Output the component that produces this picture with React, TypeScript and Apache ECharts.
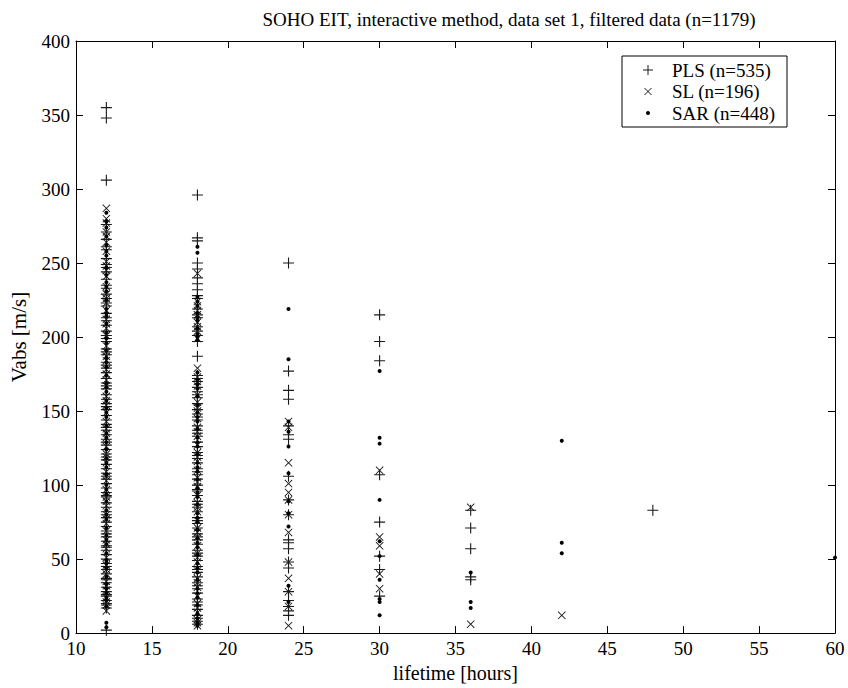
import React, { useEffect, useRef } from "react";
import * as echarts from "echarts";

const FONT = "'Liberation Serif', 'Times New Roman', serif";

const titleText = "SOHO EIT, interactive method, data set 1, filtered data (n=1179)";
const xName = "lifetime [hours]";
const yName = "Vabs [m/s]";
const legendLabels = ["PLS (n=535)", "SL (n=196)", "SAR (n=448)"];

// Vabs values per lifetime column, per method
const pls12 = [355, 348, 306, 276, 271, 266, 261, 259, 253, 249, 247, 244, 239, 235, 233, 229, 226, 223, 221, 216, 213, 211, 208, 204, 201, 199, 197, 192, 190, 188, 183, 181, 179, 176, 172, 169, 167, 165, 161, 158, 155, 153, 151, 147, 144, 141, 139, 137, 134, 131, 129, 127, 124, 121, 119, 117, 114, 111, 108, 106, 104, 101, 98, 95, 93, 92, 88, 85, 82, 80, 78, 75, 72, 69, 67, 65, 62, 59, 58, 56, 53, 50, 47, 45, 43, 40, 37, 36, 34, 31, 28, 26, 25, 22, 20, 19, 17, 2];
const pls18 = [296, 267, 265, 250, 246, 240, 236, 232, 228, 226, 219, 215, 213, 207, 204, 201, 197, 187, 174, 172, 170, 166, 163, 161, 159, 155, 151, 148, 146, 144, 140, 137, 135, 133, 129, 126, 122, 120, 118, 115, 111, 109, 107, 104, 100, 97, 96, 93, 89, 87, 85, 82, 78, 76, 74, 71, 67, 65, 63, 60, 56, 54, 52, 49, 45, 43, 41, 38, 34, 32, 30, 27, 23, 21, 19, 16, 12, 10, 8, 6];
const pls24 = [250, 177, 164, 158, 140, 134, 131, 106, 90, 80, 63, 61, 57, 48, 44, 28, 22, 18, 15, 12];
const pls30 = [215, 197, 184, 107, 75, 52, 43, 25];
const pls36 = [83, 71, 57, 38, 36];
const pls48 = [83];

const sl12 = [287, 280, 277, 271, 268, 264, 258, 251, 248, 245, 241, 234, 229, 226, 223, 218, 212, 209, 206, 201, 194, 190, 187, 184, 178, 175, 171, 167, 160, 157, 154, 149, 143, 138, 135, 132, 126, 121, 119, 115, 109, 106, 103, 97, 92, 89, 86, 80, 77, 74, 69, 63, 60, 57, 51, 46, 43, 40, 35, 32, 29, 24, 21, 19, 15];
const sl18 = [243, 224, 221, 218, 215, 210, 207, 204, 199, 179, 173, 170, 167, 161, 156, 152, 150, 145, 139, 136, 133, 127, 122, 119, 116, 110, 105, 102, 99, 93, 88, 85, 82, 76, 71, 68, 65, 59, 54, 51, 48, 42, 37, 34, 31, 25, 20, 17, 14, 9, 7, 5];
const sl24 = [143, 139, 115, 101, 95, 90, 80, 68, 48, 37, 28, 18, 5];
const sl30 = [110, 65, 59, 40, 30];
const sl36 = [85, 6];
const sl42 = [12];

const sar12 = [284, 278, 274, 268, 262, 258, 255, 247, 242, 237, 234, 231, 225, 219, 216, 214, 209, 203, 199, 196, 191, 186, 183, 180, 174, 169, 166, 163, 157, 152, 149, 146, 140, 135, 132, 129, 124, 118, 115, 112, 107, 100, 97, 94, 89, 83, 80, 77, 71, 66, 63, 60, 54, 49, 47, 44, 38, 33, 30, 27, 24, 22, 18, 7, 4];
const sar18 = [261, 257, 227, 224, 221, 216, 213, 211, 206, 202, 200, 198, 176, 171, 168, 165, 160, 154, 149, 146, 143, 138, 132, 129, 126, 121, 115, 112, 109, 104, 98, 95, 92, 87, 81, 78, 75, 70, 64, 61, 58, 53, 47, 44, 41, 36, 30, 27, 24, 19, 13, 10, 7, 5];
const sar24 = [219, 185, 143, 136, 126, 108, 89, 81, 72, 32, 21];
const sar30 = [177, 132, 128, 90, 62, 52, 36, 23, 21, 12];
const sar36 = [41, 21, 17];
const sar42 = [130, 61, 54];
const sar60 = [51];

const toPoints = (cols: [number, number[]][]) =>
  cols.flatMap(([x, ys]) => ys.map((y) => [x, y]));

const plsData = toPoints([[12, pls12], [18, pls18], [24, pls24], [30, pls30], [36, pls36], [48, pls48]]);
const slData = toPoints([[12, sl12], [18, sl18], [24, sl24], [30, sl30], [36, sl36], [42, sl42]]);
const sarData = toPoints([[12, sar12], [18, sar18], [24, sar24], [30, sar30], [36, sar36], [42, sar42], [60, sar60]]);

const PLUS = "path://M4.5,0H5.5V4.5H10V5.5H5.5V10H4.5V5.5H0V4.5H4.5Z";
const CROSS = "path://M0,0.8L0.8,0L5,4.2L9.2,0L10,0.8L5.8,5L10,9.2L9.2,10L5,5.8L0.8,10L0,9.2L4.2,5Z";

const GRID = { left: 76, right: 13, top: 41, bottom: 47 };

export default function App() {
  const ref = useRef<HTMLDivElement>(null);
  useEffect(() => {
    if (!ref.current) return;
    const chart = echarts.init(ref.current, undefined, { renderer: "svg" });
    const tickStyle = { show: true, inside: true, length: 7, lineStyle: { color: "#000", width: 1 } };
    const lineStyle = { show: true, onZero: false, lineStyle: { color: "#000", width: 1 } };
    const label = { color: "#000", fontFamily: FONT, fontSize: 19 };
    const nameStyle = { color: "#000", fontFamily: FONT, fontSize: 20 };
    const legX = 622, legY = 56, legW = 165, legH = 71;
    const rowY = [70, 91.5, 113];
    const mx = 648;
    chart.setOption({
      animation: false,
      backgroundColor: "#fff",
      title: {
        text: titleText,
        left: 504,
        top: 5,
        textAlign: "center",
        textStyle: { fontFamily: FONT, fontSize: 19, fontWeight: "normal", color: "#000" },
      },
      grid: GRID,
      xAxis: [
        {
          type: "value", min: 10, max: 60, interval: 5, position: "bottom",
          axisLine: lineStyle, axisTick: tickStyle, splitLine: { show: false },
          axisLabel: { ...label, margin: 6 },
          name: xName, nameLocation: "middle", nameGap: 29,
          nameTextStyle: { ...nameStyle },
        },
        {
          type: "value", min: 10, max: 60, interval: 5, position: "top",
          axisLine: lineStyle, axisTick: tickStyle, splitLine: { show: false },
          axisLabel: { show: false },
        },
      ],
      yAxis: [
        {
          type: "value", min: 0, max: 400, interval: 50, position: "left",
          axisLine: lineStyle, axisTick: tickStyle, splitLine: { show: false },
          axisLabel: { ...label, margin: 6 },
          name: yName, nameLocation: "middle", nameGap: 47, nameRotate: 90,
          nameTextStyle: { ...nameStyle, fontSize: 21 },
        },
        {
          type: "value", min: 0, max: 400, interval: 50, position: "right",
          axisLine: lineStyle, axisTick: tickStyle, splitLine: { show: false },
          axisLabel: { show: false },
        },
      ],
      series: [
        {
          name: legendLabels[0], type: "scatter", data: plsData, symbol: PLUS, symbolSize: 11,
          itemStyle: { color: "#1a1a1a", opacity: 1 }, clip: false, xAxisIndex: 0, yAxisIndex: 0,
        },
        {
          name: legendLabels[1], type: "scatter", data: slData, symbol: CROSS, symbolSize: 8,
          itemStyle: { color: "#1a1a1a", opacity: 1 }, clip: false, xAxisIndex: 0, yAxisIndex: 0,
        },
        {
          name: legendLabels[2], type: "scatter", data: sarData, symbol: "circle", symbolSize: 4,
          itemStyle: { color: "#000", opacity: 1 }, clip: false, xAxisIndex: 0, yAxisIndex: 0,
        },
      ],
      graphic: [
        {
          type: "rect", shape: { x: legX, y: legY, width: legW, height: legH },
          style: { fill: "#fff", stroke: "#000", lineWidth: 1 }, z: 100,
        },
        { type: "line", shape: { x1: mx - 5, y1: rowY[0], x2: mx + 5, y2: rowY[0] }, style: { stroke: "#1a1a1a", lineWidth: 1 }, z: 101 },
        { type: "line", shape: { x1: mx, y1: rowY[0] - 5, x2: mx, y2: rowY[0] + 5 }, style: { stroke: "#1a1a1a", lineWidth: 1 }, z: 101 },
        { type: "line", shape: { x1: mx - 3.5, y1: rowY[1] - 3.5, x2: mx + 3.5, y2: rowY[1] + 3.5 }, style: { stroke: "#1a1a1a", lineWidth: 1 }, z: 101 },
        { type: "line", shape: { x1: mx - 3.5, y1: rowY[1] + 3.5, x2: mx + 3.5, y2: rowY[1] - 3.5 }, style: { stroke: "#1a1a1a", lineWidth: 1 }, z: 101 },
        { type: "circle", shape: { cx: mx, cy: rowY[2], r: 2 }, style: { fill: "#000" }, z: 101 },
        ...legendLabels.map((t, i) => ({
          type: "text", x: 672, y: rowY[i], z: 101,
          style: { text: t, fill: "#000", font: `19px ${FONT}`, verticalAlign: "middle" },
        })),
      ],
    });
    return () => chart.dispose();
  }, []);
  return <div ref={ref} style={{ width: 848, height: 688, position: "absolute", left: 0, top: 0 }} />;
}
